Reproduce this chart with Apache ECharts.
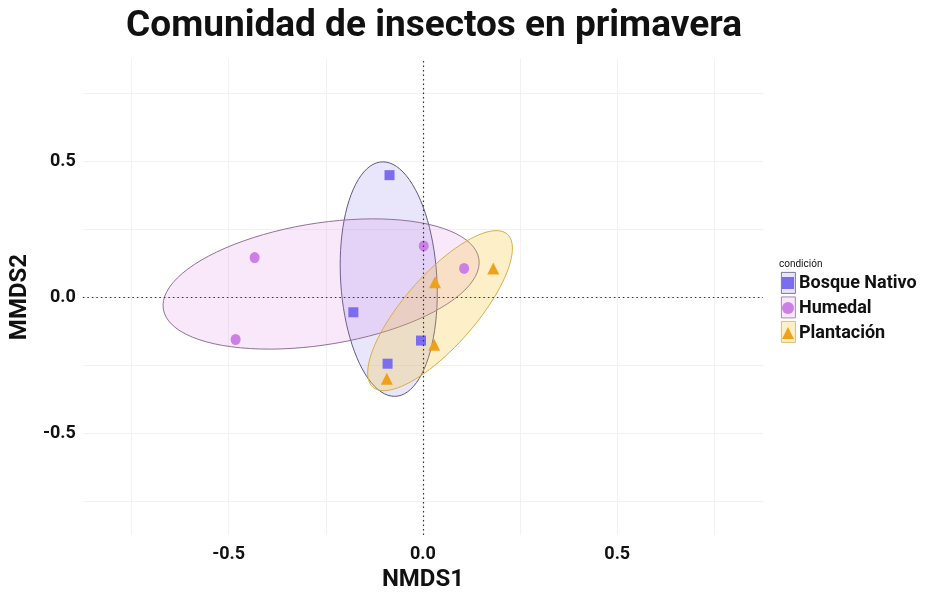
<!DOCTYPE html>
<html>
<head>
<meta charset="utf-8">
<script src="https://cdn.jsdelivr.net/npm/echarts@6/dist/echarts.min.js"></script>
<style>html,body{margin:0;background:#fff}#main{width:938px;height:597px}</style>
</head>
<body>
<div id="main"></div>
<script>
// grupos y puntos NMDS
var grupos = ['Bosque Nativo', 'Humedal', 'Plantación'];
var bosqueX = [-0.086, -0.179, -0.005, -0.091];
var bosqueY = [0.448, -0.056, -0.160, -0.245];
var humedalX = [-0.433, -0.482, 0.002, 0.106];
var humedalY = [0.145, -0.156, 0.188, 0.105];
var plantX = [0.181, 0.031, 0.029, -0.093];
var plantY = [0.105, 0.054, -0.175, -0.300];

// elipses: centro y dos semiejes conjugados (unidades NMDS)
var elipseCentro = [[-0.088, 0.066], [-0.262, 0.048], [0.044, -0.050]];
var elipseEjeU = [[-0.015, 0.431], [0.406, 0.092], [0.173, 0.281]];
var elipseEjeV = [[0.124, 0], [0.024, -0.221], [0.069, -0.087]];

var etiquetasEje = [-0.5, 0, 0.5];

var colores = ['#7b6cf0', '#cc80e6', '#eea21c'];
var rellenos = ['rgba(123,104,238,0.17)', 'rgba(214,120,226,0.17)', 'rgba(246,196,40,0.25)'];
var bordes = ['#5d5a7e', '#8f7396', '#d6b043'];
var simbolos = ['rect', 'circle', 'triangle'];
var tamanos = [10, [10, 11], 12];

var fuente = 'Roboto';

function pares(xs, ys) {
    return xs.map(function (v, i) { return [v, ys[i]]; });
}
var puntos = [pares(bosqueX, bosqueY), pares(humedalX, humedalY), pares(plantX, plantY)];

function dibujaElipse(k) {
    return function (params, api) {
        var c = elipseCentro[k], u = elipseEjeU[k], v = elipseEjeV[k];
        var pts = [];
        for (var i = 0; i <= 90; i++) {
            var t = i / 90 * 2 * Math.PI;
            var ct = Math.cos(t), st = Math.sin(t);
            pts.push(api.coord([c[0] + ct * u[0] + st * v[0], c[1] + ct * u[1] + st * v[1]]));
        }
        return {
            type: 'polygon',
            shape: { points: pts },
            style: { fill: rellenos[k], stroke: bordes[k], lineWidth: 1 }
        };
    };
}

function etiqueta(val) {
    for (var i = 0; i < etiquetasEje.length; i++) {
        if (Math.abs(val - etiquetasEje[i]) < 1e-6) return etiquetasEje[i].toFixed(1);
    }
    return '';
}

var ejeComun = {
    type: 'value',
    min: -0.875,
    max: 0.875,
    interval: 0.125,
    axisLine: { show: false },
    axisTick: { show: false },
    splitLine: { lineStyle: { color: ['rgba(0,0,0,0)', '#f2f2f2'], width: 1 } },
    axisLabel: { formatter: etiqueta, color: '#111', fontFamily: fuente, fontSize: 18, fontWeight: 'bold' },
    nameTextStyle: { color: '#111', fontFamily: fuente, fontSize: 24, fontWeight: 'bold' }
};

var series = [];
for (var k = 0; k < 3; k++) {
    series.push({
        type: 'custom',
        name: 'elipse' + k,
        renderItem: dibujaElipse(k),
        data: [elipseCentro[k]],
        silent: true,
        z: 1
    });
}
for (var k = 0; k < 3; k++) {
    var s = {
        type: 'scatter',
        name: grupos[k],
        data: puntos[k],
        symbol: simbolos[k],
        symbolSize: tamanos[k],
        itemStyle: { color: colores[k], opacity: 1 },
        z: 3
    };
    if (k === 0) {
        s.markLine = {
            silent: true,
            symbol: 'none',
            label: { show: false },
            lineStyle: { type: [1.5, 3], color: '#333', width: 1.2 },
            data: [{ xAxis: 0 }, { yAxis: 0 }]
        };
    }
    series.push(s);
}

// cajas de la leyenda (fondo de cada clave)
var cajas = [];
for (var k = 0; k < 3; k++) {
    cajas.push({
        type: 'rect',
        left: 781,
        top: 272 + k * 24.5,
        z: 0,
        shape: { width: 14, height: 21 },
        style: { fill: rellenos[k], stroke: bordes[k], lineWidth: 0.8 },
        silent: true
    });
}

var myChart = echarts.init(document.getElementById('main'));
var option = {
    backgroundColor: '#fff',
    animation: false,
    title: [{
        text: 'Comunidad de insectos en primavera',
        left: 429,
        textAlign: 'center',
        top: 3,
        textStyle: { fontFamily: fuente, fontSize: 37, fontWeight: 'bold', color: '#111' }
    }, {
        text: 'condición',
        left: 774,
        top: 254,
        textStyle: { fontFamily: fuente, fontSize: 10, fontWeight: 'normal', color: '#111' }
    }],
    grid: { left: 79, right: 175, top: 59, bottom: 60 },
    xAxis: Object.assign({}, ejeComun, {
        name: 'NMDS1', nameLocation: 'middle', nameGap: 32,
        axisLabel: Object.assign({}, ejeComun.axisLabel, { margin: 10 })
    }),
    yAxis: Object.assign({}, ejeComun, {
        name: 'MMDS2', nameLocation: 'middle', nameGap: 46,
        axisLabel: Object.assign({}, ejeComun.axisLabel, { margin: 7 })
    }),
    legend: {
        data: grupos,
        orient: 'vertical',
        left: 782,
        top: 273,
        padding: 0,
        itemWidth: 12,
        itemHeight: 12,
        itemGap: 5,
        z: 5,
        textStyle: { fontFamily: fuente, fontSize: 18, fontWeight: 'bold', color: '#111', lineHeight: 20 }
    },
    graphic: cajas,
    series: series
};
myChart.setOption(option);
</script>
</body>
</html>
